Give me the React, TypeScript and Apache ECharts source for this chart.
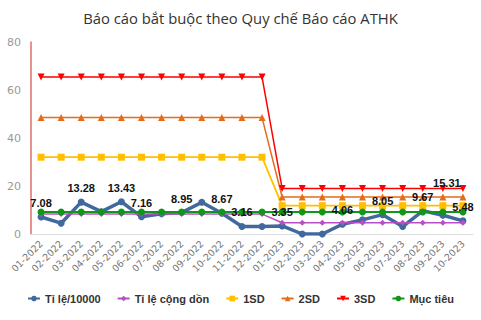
import React, { useEffect, useRef } from "react";
import * as echarts from "echarts";

const categories = [
  "01-2022", "02-2022", "03-2022", "04-2022", "05-2022", "06-2022", "07-2022", "08-2022",
  "09-2022", "10-2022", "11-2022", "12-2022", "01-2023", "02-2023", "03-2023", "04-2023",
  "05-2023", "06-2023", "07-2023", "08-2023", "09-2023", "10-2023",
];
const rate = [7.08, 4.5, 13.28, 9.3, 13.43, 7.16, 8.4, 8.95, 13.2, 8.67, 3.16, 3.1, 3.35, 0, 0, 4.06, 5.9, 8.05, 3.1, 9.67, 7.8, 5.48];
const rateLabels = ["7.08", "", "13.28", "", "13.43", "7.16", "", "8.95", "", "8.67", "3.16", "", "3.35", "", "", "4.06", "", "8.05", "", "9.67", "15.31", "5.48"];
const cumulative = [8.3, 8.3, 8.3, 8.3, 8.3, 8.3, 8.3, 8.3, 8.3, 8.3, 8.3, 8.3, 4.7, 4.7, 4.7, 4.7, 4.7, 4.7, 4.7, 4.7, 4.7, 4.7];
const sd1 = [32, 32, 32, 32, 32, 32, 32, 32, 32, 32, 32, 32, 11.8, 11.8, 11.8, 11.8, 11.8, 11.8, 11.8, 11.8, 11.8, 11.8];
const sd2 = [48.5, 48.5, 48.5, 48.5, 48.5, 48.5, 48.5, 48.5, 48.5, 48.5, 48.5, 48.5, 15.4, 15.4, 15.4, 15.4, 15.4, 15.4, 15.4, 15.4, 15.4, 15.4];
const sd3 = [65.4, 65.4, 65.4, 65.4, 65.4, 65.4, 65.4, 65.4, 65.4, 65.4, 65.4, 65.4, 19, 19, 19, 19, 19, 19, 19, 19, 19, 19];
const target = [9.2, 9.2, 9.2, 9.2, 9.2, 9.2, 9.2, 9.2, 9.2, 9.2, 9.2, 9.2, 9.2, 9.2, 9.2, 9.2, 9.2, 9.2, 9.2, 9.2, 9.2, 9.2];
const yTicks = [0, 20, 40, 60, 80];

export default function App() {
  const ref = useRef<HTMLDivElement>(null);
  useEffect(() => {
    if (!ref.current) return;
    const chart = echarts.init(ref.current, null, { renderer: "svg" });
    const rateData = rate.map((v, i) => {
      const txt = rateLabels[i];
      if (!txt) return { value: v, label: { show: false } };
      const extra = txt === "15.31" ? { offset: [4, -18] } : {};
      return { value: v, label: { show: true, formatter: txt, ...extra } };
    });
    chart.setOption({
      animation: false,
      backgroundColor: "#ffffff",
      title: {
        text: "Báo cáo bắt buộc theo Quy chế Báo cáo ATHK",
        left: "center",
        top: 5,
        textStyle: { fontFamily: "Open Sans", fontSize: 14.8, fontWeight: "normal", color: "#333" },
      },
      grid: { left: 31, right: 8, top: 42, bottom: 86, containLabel: false },
      legend: {
        bottom: 11,
        left: "center",
        itemGap: 16,
        itemWidth: 12,
        itemHeight: 7,
        textStyle: { fontFamily: "Liberation Sans", fontSize: 11, fontWeight: "bold", color: "#333" },
        data: ["Tỉ lệ/10000", "Tỉ lệ cộng dồn", "1SD", "2SD", "3SD", "Mục tiêu"],
      },
      xAxis: {
        type: "category",
        data: categories,
        boundaryGap: true,
        axisLine: { lineStyle: { color: "#dddddd" } },
        axisTick: { show: false },
        axisLabel: { rotate: 45, fontSize: 9.5, color: "#777", margin: 8, interval: 0, fontFamily: "DejaVu Sans" },
      },
      yAxis: {
        type: "value",
        min: yTicks[0],
        max: yTicks[yTicks.length - 1],
        interval: 20,
        axisLine: { show: true, lineStyle: { color: "#e06c6c", width: 1.5 } },
        axisTick: { show: false },
        splitLine: { show: false },
        axisLabel: { fontSize: 11, color: "#999", margin: 10, fontFamily: "DejaVu Sans" },
      },
      series: [
        {
          name: "Tỉ lệ/10000",
          type: "line",
          data: rateData,
          symbol: "circle",
          symbolSize: 7,
          lineStyle: { width: 3.5, color: "#41699d" },
          itemStyle: { color: "#41699d" },
          label: { show: true, position: "top", color: "#111", fontSize: 11, fontWeight: "bold", fontFamily: "Liberation Sans", distance: 5 },
        },
        {
          name: "Tỉ lệ cộng dồn",
          type: "line",
          data: cumulative,
          symbol: "diamond",
          symbolSize: 6,
          lineStyle: { width: 1.5, color: "#b94fc4" },
          itemStyle: { color: "#b94fc4" },
        },
        {
          name: "1SD",
          type: "line",
          data: sd1,
          symbol: "rect",
          symbolSize: 7,
          lineStyle: { width: 1.8, color: "#ffc000" },
          itemStyle: { color: "#ffc000" },
        },
        {
          name: "2SD",
          type: "line",
          data: sd2,
          symbol: "triangle",
          symbolSize: 7,
          lineStyle: { width: 1.5, color: "#e46c1a" },
          itemStyle: { color: "#e46c1a" },
        },
        {
          name: "3SD",
          type: "line",
          data: sd3,
          symbol: "triangle",
          symbolRotate: 180,
          symbolSize: 7,
          lineStyle: { width: 1.5, color: "#ff0000" },
          itemStyle: { color: "#ff0000" },
        },
        {
          name: "Mục tiêu",
          type: "line",
          data: target,
          symbol: "circle",
          symbolSize: 7,
          lineStyle: { width: 2, color: "#12961a" },
          itemStyle: { color: "#12961a" },
        },
      ],
    });
    return () => chart.dispose();
  }, []);
  return <div ref={ref} style={{ width: 481, height: 320, position: "absolute", left: 0, top: 0 }} />;
}
